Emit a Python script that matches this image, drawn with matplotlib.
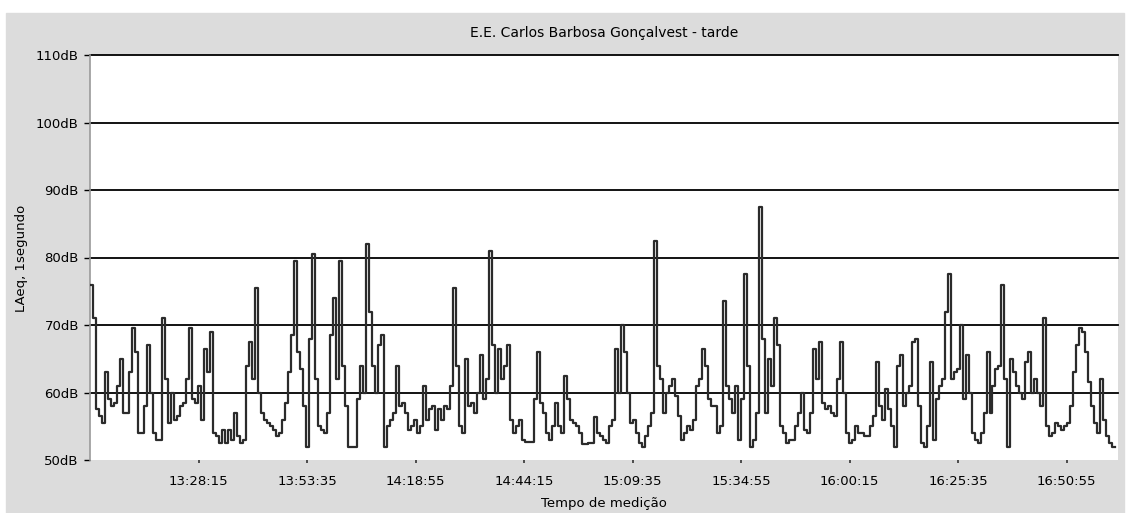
import matplotlib
matplotlib.use("Agg")
import matplotlib.pyplot as plt
from matplotlib.patches import Rectangle
from matplotlib.ticker import FuncFormatter
import numpy as np

# medição começa 13:02:55, um valor a cada 42 s (4 horas)
start = "13:02:55"
step_s = 42
duration_s = 4 * 3600
tick_every = 1520  # 25:20

laeq = [
    76, 71, 57.5, 56.5, 55.5, 63, 59, 58, 58.5, 61,
    65, 57, 57, 63, 69.5, 66, 54, 54, 58, 67,
    60, 54, 53, 53, 71, 62, 55.5, 60, 56, 56.5,
    58, 58.5, 62, 69.5, 59, 58.5, 61, 56, 66.5, 63,
    69, 54,
    53.5, 52.5, 54.5, 52.5, 54.5, 53, 57, 53.5, 52.5, 53,
    64, 67.5, 62, 75.5, 60, 57, 56, 55.5, 55, 54.5,
    53.5, 54, 56, 58.5, 63, 68.5, 79.5, 66, 63.5, 58,
    52, 68, 80.5, 62, 55, 54.5, 54, 57,
    68.5, 74, 62, 79.5, 64, 58, 52, 52, 52,
    59, 64, 60, 82, 72, 64, 60, 67, 68.5, 52,
    55, 56, 57, 64, 58, 58.5, 57, 54.5, 55, 56,
    54, 55, 61, 56, 57.5, 58, 54.5, 57.5, 56, 58,
    57.5, 61, 75.5, 64, 55,
    54, 65, 58, 58.5, 57, 60, 65.5, 59, 62, 81,
    67, 60, 66.5, 62, 64, 67, 56, 54, 55, 56,
    53, 52.7, 52.7, 52.7, 59, 66, 58.5, 57, 54, 53,
    55, 58.5, 55, 54, 62.5, 59, 56, 55.5, 55, 54,
    52.3,
    52.3, 52.5, 52.5, 56.4, 54, 53.5, 53, 52.5, 55, 56,
    66.5, 60, 70, 66, 60, 55.5, 56, 54, 52.5, 52,
    53.5, 55, 57, 82.5, 64, 62, 57, 60, 61, 62,
    59.5, 56.5, 53, 54, 55, 54.5, 56, 61, 62, 66.5,
    64, 59,
    58, 58, 54, 55, 73.5, 61, 59, 57, 61, 53,
    59, 77.5, 64, 52, 53, 57, 87.5, 68, 57, 65,
    61, 71, 67, 55, 54, 52.5, 53, 53, 55, 57,
    60, 54.5, 54, 57, 66.5, 62, 67.5, 58.5, 57.5, 58,
    57, 56.5,
    62, 67.5, 60, 54, 52.5, 53, 55, 54, 54, 53.5,
    53.5, 55, 56.5, 64.5, 58, 56, 60.5, 57.5, 55, 52,
    64, 65.5, 58, 60, 61, 67.5, 68, 58, 52.5, 52,
    55, 64.5, 53, 59, 61, 62, 72, 77.5, 62, 63,
    63.5,
    70, 59, 65.5, 60, 54, 53, 52.5, 54, 57, 66,
    57, 61, 63.5, 64, 76, 62, 52, 65, 63, 61,
    60, 59, 64.5, 66, 60, 62, 60, 58, 71, 55,
    53.5, 54, 55.5, 55, 54.5, 55, 55.5, 58, 63, 67,
    69.5,
    69, 66, 61.5, 58, 55.5, 54, 62, 56, 53.5, 52.5, 52, 52,
]

y_ticks = [50, 60, 70, 80, 90, 100, 110]

h0, m0, s0 = [int(v) for v in start.split(":")]
start_s = h0 * 3600 + m0 * 60 + s0


def hms(x, pos=None):
    s = int(round(start_s + x))
    return "%d:%02d:%02d" % (s // 3600, (s // 60) % 60, s % 60)


t = np.arange(len(laeq)) * step_s

W, H = 1128, 513
fig = plt.figure(figsize=(W / 100, H / 100), dpi=100, facecolor="white")
fig.patches.append(Rectangle((6 / W, 0), (1124 - 6) / W, 1 - 13 / H,
                             transform=fig.transFigure, color="#dcdcdc", zorder=-5))

ax = fig.add_axes([90 / W, 1 - 460 / H, (1118 - 90) / W, (460 - 55) / H])
ax.set_facecolor("white")

for v in y_ticks[1:]:
    ax.axhline(v, color="black", lw=1.3, zorder=1, clip_on=False)

ax.step(t, laeq, where="post", color="#2b2b2b", lw=1.6, zorder=3)

ax.set_xlim(0, duration_s)
ax.set_ylim(50, 110)
ax.set_yticks(y_ticks)
ax.set_yticklabels(["%ddB" % v for v in y_ticks])
ax.set_xticks(np.arange(tick_every, duration_s, tick_every))
ax.xaxis.set_major_formatter(FuncFormatter(hms))

for s in ["top", "right", "bottom"]:
    ax.spines[s].set_visible(False)
ax.spines["left"].set_color("#9a9a9a")
ax.spines["left"].set_linewidth(1.2)

ax.tick_params(axis="y", length=4, width=1, color="black", labelsize=9.5, pad=4)
ax.tick_params(axis="x", length=2.5, width=1.2, color="#333333", labelsize=9.5, pad=8)

fig.text(604 / W, 1 - 33 / H, "E.E. Carlos Barbosa Gonçalvest - tarde",
         ha="center", va="center", fontsize=10)
fig.text(604 / W, 1 - 503 / H, "Tempo de medição", ha="center", va="center", fontsize=9.5)
fig.text(22 / W, 1 - 258 / H, "LAeq, 1segundo", ha="center", va="center",
         rotation=90, fontsize=9.5)

fig.savefig("out.png", dpi=100, facecolor="white")
